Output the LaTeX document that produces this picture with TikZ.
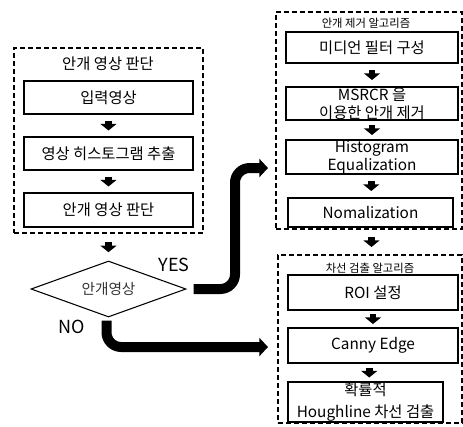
\documentclass[tikz,border=0pt]{standalone}
\usepackage{fontspec}
\setmainfont{Noto Sans CJK KR}
\usetikzlibrary{arrows.meta,calc,shapes.geometric}
\tikzset{group/.style={draw, line width=1.5pt, dash pattern=on 3.75pt off 2.25pt, inner sep=0pt}, box/.style={draw, line width=1pt, inner sep=0pt, align=center, font=\fontsize{11.5}{13.5}\selectfont}, ttl/.style={font=\fontsize{11.5}{13}\selectfont}, sttl/.style={font=\fontsize{8.5}{10}\selectfont}, stepar/.style={-{Triangle[width=12pt,length=5pt]}, line width=5pt}, bigar/.style={-{Triangle[width=13.5pt,length=6.5pt]}, line width=7.5pt, rounded corners=11pt}, decide/.style={draw, diamond, aspect=2.77, minimum width=116.25pt, minimum height=42pt, inner sep=0pt, line width=0.8pt, font=\fontsize{11}{13}\selectfont, text=black!80}, yn/.style={font=\fontsize{13.5}{15}\selectfont}}
\begin{document}
\begin{tikzpicture}[x=0.75pt,y=-0.75pt]
\useasboundingbox (0,0) rectangle (463,426);
% fog decision
\node[group, minimum width=141.75pt, minimum height=138.75pt] (fog) at (108.5,140.5) {};
\node[ttl] (foghead) at (108,64) {안개 영상 판단};
\node[box, minimum width=126.75pt, minimum height=24.75pt] (b1) at (108.5,97.5) {입력영상};
\node[box, minimum width=126.75pt, minimum height=24.75pt] (b2) at (108.5,153.5) {영상 히스토그램 추출};
\node[box, minimum width=126.75pt, minimum height=25.5pt] (b3) at (108.5,210) {안개 영상 판단};
\node[decide] (dia) at (108.5,289) {안개영상};
\node[yn] (yes) at (174,265) {YES};
\node[yn] (no) at (72,327) {NO};
% haze removal
\node[group, minimum width=139.5pt, minimum height=162.75pt] (haze) at (369,120.5) {};
\node[sttl] (hazehead) at (366,23) {안개 제거 알고리즘};
\node[box, minimum width=129pt, minimum height=23.25pt] (r1) at (372,47.5) {미디언 필터 구성};
\node[box, minimum width=129pt, minimum height=24.75pt] (r2) at (372,103.5) {MSRCR 을\\이용한 안개 제거};
\node[box, minimum width=129pt, minimum height=25.5pt] (r3) at (372,157) {Histogram\\Equalization};
\node[box, minimum width=123.75pt, minimum height=21.75pt] (r4) at (370.5,212.5) {Nomalization};
% lane detection
\node[group, minimum width=138pt, minimum height=126pt] (lane) at (370,339) {};
\node[sttl] (lanehead) at (370,268) {차선 검출 알고리즘};
\node[box, minimum width=127.5pt, minimum height=26.25pt] (s1) at (373,292.5) {ROI 설정};
\node[box, minimum width=127.5pt, minimum height=26.25pt] (s2) at (373,345.5) {Canny Edge};
\node[box, minimum width=116.25pt, minimum height=30pt, font=\fontsize{11.5}{16}\selectfont] (s3) at (365.5,402) {확률적\\Houghline 차선 검출};
% small arrows
\draw[stepar] ($(b1.south)!.5!(b2.north)+(0,-5)$) -- ($(b1.south)!.5!(b2.north)+(0,5)$);
\draw[stepar] ($(b2.south)!.5!(b3.north)+(0,-5)$) -- ($(b2.south)!.5!(b3.north)+(0,5)$);
\draw[stepar] ($(fog.south)!.5!(dia.north)+(0,-5)$) -- ($(fog.south)!.5!(dia.north)+(0,5)$);
\draw[stepar] ($(r1.south)!.5!(r2.north)+(0,-5)$) -- ($(r1.south)!.5!(r2.north)+(0,5)$);
\draw[stepar] ($(r2.south)!.5!(r3.north)+(0,-5)$) -- ($(r2.south)!.5!(r3.north)+(0,5)$);
\draw[stepar] ($(r3.south)!.5!(r4.north)+(0,-5)$) -- ($(r3.south)!.5!(r4.north)+(0,5)$);
\draw[stepar] ($(haze.south)!.5!(lane.north)+(2,-5)$) -- ($(haze.south)!.5!(lane.north)+(2,5)$);
\draw[stepar] ($(s1.south)!.5!(s2.north)+(0,-5)$) -- ($(s1.south)!.5!(s2.north)+(0,5)$);
\draw[stepar] ($(s2.south)!.5!(s3.north)+(0,-5)$) -- ($(s2.south)!.5!(s3.north)+(0,5)$);
% yes / no
\coordinate (yesbend) at (235,168);
\coordinate (yesend) at (268,168);
\coordinate (noend) at (268,347);
\draw[bigar] ($(dia.east)+(7,0)$) -| (yesbend) -- (yesend);
\draw[bigar] ($(dia.south)+(-2,3)$) |- (noend);
\end{tikzpicture}
\end{document}
